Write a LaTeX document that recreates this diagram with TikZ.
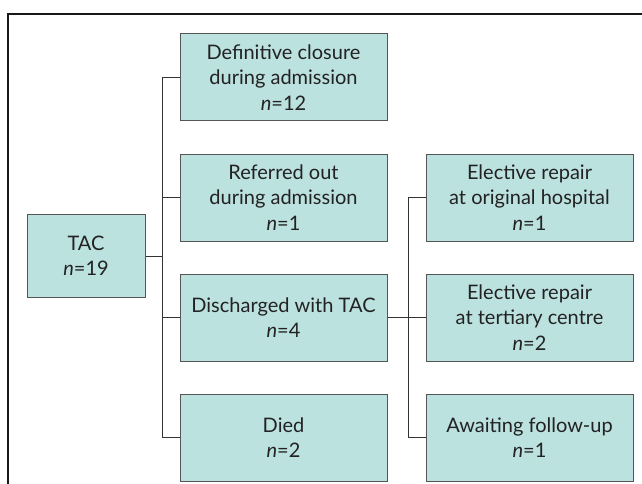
\documentclass[tikz,border=0pt]{standalone}
\usepackage{fontspec}
\setmainfont{Lato}
\usetikzlibrary{positioning, calc}
\definecolor{boxfill}{HTML}{BCE2E0}
\definecolor{boxline}{HTML}{555555}
\definecolor{linkline}{HTML}{333333}
\definecolor{txt}{HTML}{222222}
\tikzset{
  stage/.style = {draw=boxline, fill=boxfill, line width=1pt, align=center,
                  text=txt, font=\fontsize{20}{25.5}\selectfont,
                  minimum width=207pt, minimum height=87pt, inner sep=2pt},
  root/.style  = {stage, minimum width=118pt, minimum height=83pt},
  link/.style  = {draw=linkline, line width=1pt},
  frame/.style = {draw=black!90, line width=2pt},
}
\newcommand{\nn}[1]{\textit{n}=#1}
\begin{document}
\begin{tikzpicture}[x=1pt, y=-1pt, node distance=32pt]
  \useasboundingbox (0,0) rectangle (642,484);
  \draw[frame] (8,490) -- (8,14) -- (650,14);
  % first column
  \node[stage] (def) at (283.5,77.5) {Definitive closure\\during admission\\\nn{12}};
  \node[stage, below=of def] (ref) {Referred out\\during admission\\\nn{1}};
  \node[stage, below=of ref] (dis) {Discharged with TAC\\\nn{4}};
  \node[stage, below=of dis] (died) {Died\\\nn{2}};
  \node[root] (tac) at (86,256) {TAC\\\nn{19}};
  % second column
  \node[stage, right=38pt of ref] (ori) {Elective repair\\at original hospital\\\nn{1}};
  \node[stage, right=38pt of dis] (ter) {Elective repair\\at tertiary centre\\\nn{2}};
  \node[stage, right=38pt of died] (awa) {Awaiting follow-up\\\nn{1}};
  % connectors
  \coordinate (trunk) at ($(tac.east)!0.5!(def.west)$);
  \coordinate (rtrunk) at ($(dis.east)!0.55!(ter.west)$);
  \draw[link] (tac.east) -- (tac.east -| trunk);
  \draw[link] (def.west) -- (def.west -| trunk) -- (died.west -| trunk) -- (died.west);
  \draw[link] (ref.west) -- (ref.west -| trunk);
  \draw[link] (dis.west) -- (dis.west -| trunk);
  \draw[link] (dis.east) -- (ter.west);
  \draw[link] (ori.west) -- (ori.west -| rtrunk) -- (awa.west -| rtrunk) -- (awa.west);
\end{tikzpicture}
\end{document}
